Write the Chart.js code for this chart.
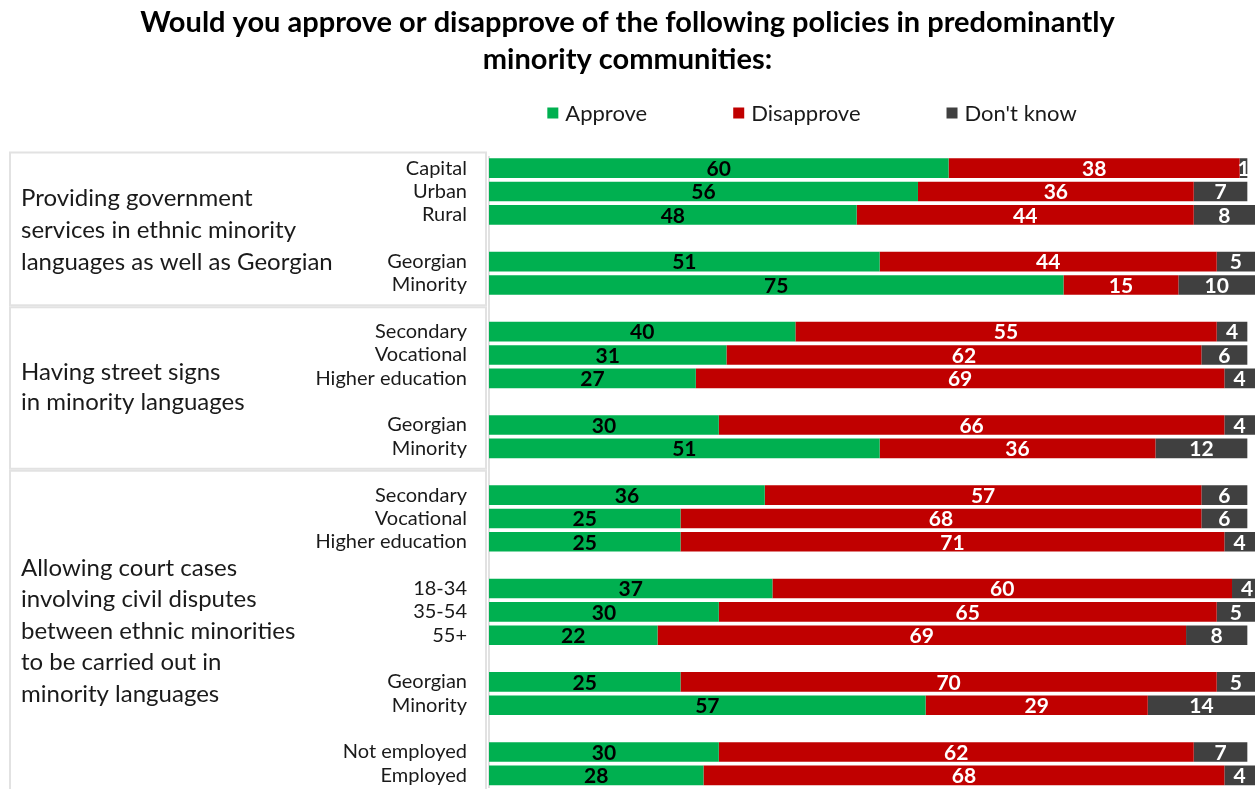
<!DOCTYPE html>
<html>
<head>
<meta charset="utf-8">
<script src="https://cdn.jsdelivr.net/npm/chart.js@4"></script>
<style>
  html, body { margin: 0; padding: 0; background: #fff; }
  #wrap { width: 1258px; height: 789px; position: relative; }
</style>
</head>
<body>
<div id="wrap"><canvas id="policyChart"></canvas></div>
<script>
// rows of the chart; empty strings are spacer rows between sub-groups
const categories = [
    "Capital", "Urban", "Rural", "", "Georgian", "Minority", "",
    "Secondary", "Vocational", "Higher education", "", "Georgian", "Minority", "",
    "Secondary", "Vocational", "Higher education", "", "18-34", "35-54", "55+", "",
    "Georgian", "Minority", "", "Not employed", "Employed"
];

const approve    = [60, 56, 48, null, 51, 75, null, 40, 31, 27, null, 30, 51, null, 36, 25, 25, null, 37, 30, 22, null, 25, 57, null, 30, 28];
const disapprove = [38, 36, 44, null, 44, 15, null, 55, 62, 69, null, 66, 36, null, 57, 68, 71, null, 60, 65, 69, null, 70, 29, null, 62, 68];
const dontKnow   = [1, 7, 8, null, 5, 10, null, 4, 6, 4, null, 4, 12, null, 6, 6, 4, null, 4, 5, 8, null, 5, 14, null, 7, 4];

const seriesNames = ["Approve", "Disapprove", "Don't know"];

// policy questions shown on the left, with the first and last row they cover
const groupLines = [
    ["Providing government", "services in ethnic minority", "languages as well as Georgian"],
    ["Having street signs", "in minority languages"],
    ["Allowing court cases", "involving civil disputes", "between ethnic minorities", "to be carried out in", "minority languages"]
];
const groupRows = [[0, 5], [7, 12], [14, 26]];

const GREEN = "#00B050";
const RED = "#C00000";
const GREY = "#404040";
const FONT = "Lato, 'Open Sans', sans-serif";

// left-hand boxes with the question text
const groupBoxes = {
    id: "groupBoxes",
    afterDraw(chart) {
        const ctx = chart.ctx;
        const y = chart.scales.y;
        const half = (y.getPixelForValue(1) - y.getPixelForValue(0)) / 2;
        const textShift = [3.5, -2.5, -4];
        const lineGap = [32, 30, 31.5];
        ctx.save();
        ctx.strokeStyle = "#e2e2e2";
        ctx.lineWidth = 2;
        groupRows.forEach((r, i) => {
            const top = i === 0 ? y.getPixelForValue(r[0]) - half - 4 : y.getPixelForValue(r[0] - 1) - 1;
            const bottom = i === groupRows.length - 1 ? chart.height + 2 : y.getPixelForValue(r[1] + 1) - 3;
            ctx.strokeRect(10, top, 476, bottom - top);

            const mid = (y.getPixelForValue(r[0]) + y.getPixelForValue(r[1])) / 2 + textShift[i];
            const lines = groupLines[i];
            ctx.fillStyle = "#1a1a1a";
            ctx.font = "24px " + FONT;
            ctx.textAlign = "left";
            ctx.textBaseline = "middle";
            lines.forEach((t, k) => {
                ctx.fillText(t, 21, mid + (k - (lines.length - 1) / 2) * lineGap[i]);
            });
        });
        ctx.restore();
    }
};

// legend row under the title
const legendRow = {
    id: "legendRow",
    afterDraw(chart) {
        const ctx = chart.ctx;
        ctx.save();
        ctx.font = "22px " + FONT;
        ctx.textBaseline = "middle";
        ctx.textAlign = "left";
        const box = 11, gapText = 7, gapItem = 86;
        const widths = chart.data.datasets.map(d => box + gapText + ctx.measureText(d.label).width);
        const total = widths.reduce((a, b) => a + b, 0) + gapItem * (widths.length - 1);
        let x = 812 - total / 2;
        const yMid = 113;
        chart.data.datasets.forEach((d, i) => {
            ctx.fillStyle = d.backgroundColor;
            ctx.fillRect(x, yMid - box / 2, box, box);
            ctx.fillStyle = "#1a1a1a";
            ctx.fillText(d.label, x + box + gapText, yMid + 1);
            x += widths[i] + gapItem;
        });
        ctx.restore();
    }
};

// value labels in the middle of each segment
const segmentLabels = {
    id: "segmentLabels",
    afterDatasetsDraw(chart) {
        const ctx = chart.ctx;
        ctx.save();
        ctx.font = "bold 21px " + FONT;
        ctx.textAlign = "center";
        ctx.textBaseline = "middle";
        chart.data.datasets.forEach((ds, di) => {
            const meta = chart.getDatasetMeta(di);
            meta.data.forEach((bar, i) => {
                const v = ds.data[i];
                if (v == null) return;
                const cx = Math.min((bar.x + bar.base) / 2, chart.chartArea.right - 8);
                ctx.fillStyle = di === 0 ? "#000" : "#fff";
                ctx.fillText(String(v), cx, bar.y + 1);
            });
        });
        ctx.restore();
    }
};

const ctx = document.getElementById("policyChart").getContext("2d");

new Chart(ctx, {
    type: "bar",
    data: {
        labels: categories,
        datasets: [
            { label: seriesNames[0], data: approve, backgroundColor: GREEN },
            { label: seriesNames[1], data: disapprove, backgroundColor: RED },
            { label: seriesNames[2], data: dontKnow, backgroundColor: GREY }
        ]
    },
    options: {
        indexAxis: "y",
        responsive: true,
        maintainAspectRatio: false,
        animation: false,
        datasets: {
            bar: { barPercentage: 0.84, categoryPercentage: 1, borderWidth: 0 }
        },
        layout: { padding: { right: 3, bottom: 2 } },
        scales: {
            x: {
                stacked: true,
                min: 0,
                max: 100,
                display: false
            },
            y: {
                stacked: true,
                grid: { display: false, drawTicks: false },
                border: { display: true, color: "#e2e2e2", width: 2 },
                ticks: {
                    autoSkip: false,
                    padding: 22,
                    color: "#1a1a1a",
                    font: { family: FONT, size: 20 }
                },
                afterFit(axis) {
                    // fixed label column; tick padding should not shrink the plot vertically
                    axis.width = 489;
                    axis.paddingTop = 0;
                    axis.paddingBottom = 0;
                }
            }
        },
        plugins: {
            legend: { display: false },
            tooltip: { enabled: false },
            title: {
                display: true,
                text: [
                    "Would you approve or disapprove of the following policies in predominantly",
                    "minority communities:"
                ],
                color: "#000",
                font: { family: FONT, size: 29, weight: "bold", lineHeight: 1.25 },
                padding: { top: 5, bottom: 79 }
            }
        }
    },
    plugins: [segmentLabels, groupBoxes, legendRow]
});
</script>
</body>
</html>
